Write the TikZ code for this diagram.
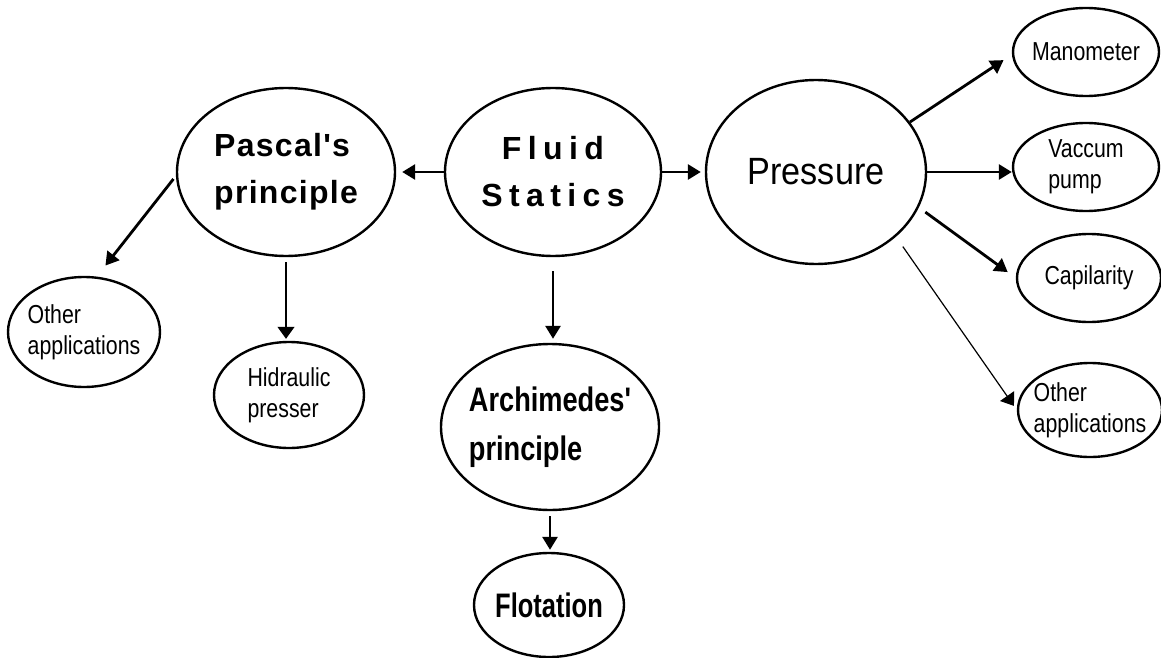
\documentclass[tikz,border=0pt]{standalone}
\usepackage{fontspec}
\setmainfont{Liberation Sans}
\newfontfamily\widefont[LetterSpace=20]{Liberation Sans}
\newfontfamily\pascalfont[LetterSpace=4]{Liberation Sans}
\newfontfamily\condfont[FakeStretch=0.82]{Liberation Sans}
\newfontfamily\bcondfont[FakeStretch=0.8]{Liberation Sans}
\newfontfamily\flotfont[FakeStretch=0.75]{Liberation Sans}
\newfontfamily\pressfont[FakeStretch=0.9]{Liberation Sans}
\usetikzlibrary{positioning}
\usetikzlibrary{arrows.meta}
\usetikzlibrary{shapes.geometric}

\begin{document}
\begin{tikzpicture}[x=1pt,y=-1pt,
 bubble/.style={draw,ellipse,line width=2.4pt,inner sep=-12pt,align=left},
 head/.style={bubble,font=#1\bfseries\fontsize{32}{47}\selectfont},
 leaf/.style={bubble,font=\condfont\fontsize{26}{31}\selectfont},
 fat/.style={line width=2.8pt,-{Triangle[length=13pt,width=15pt]}},
 slim/.style={line width=1.2pt,-{Triangle[length=12pt,width=17pt]}}]
 \useasboundingbox (0,0) rectangle (1161,658);
 % main bubbles
 \node[head=\widefont,align=center,minimum width=216pt,minimum height=168pt] (fluid) at (553,172) {Fluid\\Statics};
 \node[head=\pascalfont,minimum width=218pt,minimum height=168pt] (pascal) at (286,172) {Pascal's\\principle};
 \node[bubble,font=\pressfont\fontsize{38}{44}\selectfont,minimum width=220pt,minimum height=184pt] (pressure) at (816,172) {Pressure};
 \node[bubble,font=\bcondfont\bfseries\fontsize{34}{49}\selectfont,minimum width=218pt,minimum height=166pt] (arch) at (550,427) {Archimedes'\\principle};
 \node[bubble,font=\flotfont\bfseries\fontsize{34}{40}\selectfont,minimum width=150pt,minimum height=104pt] (flot) at (549,605) {Flotation};
 % leaves
 \node[leaf,minimum width=150pt,minimum height=106pt] (hid) at (289,395) {Hidraulic\\presser};
 \node[leaf,minimum width=152pt,minimum height=110pt] (oleft) at (84,332) {Other\\applications};
 \node[leaf,minimum width=146pt,minimum height=88pt] (mano) at (1086,52) {Manometer};
 \node[leaf,minimum width=146pt,minimum height=88pt] (vac) at (1086,167) {Vaccum\\pump};
 \node[leaf,minimum width=144pt,minimum height=88pt] (capil) at (1089,278) {Capilarity};
 \node[leaf,minimum width=144pt,minimum height=94pt] (oright) at (1090,410) {Other\\applications};
 % arrows
 \draw[fat,shorten >=6pt] (fluid.west) -- (pascal.east);
 \draw[fat,shorten >=4pt] (fluid.east) -- (pressure.west);
 \draw[fat,shorten <=14pt,shorten >=4pt] (fluid.south) -- (fluid.south |- arch.north);
 \draw[fat,shorten <=4pt,shorten >=14pt] (pascal.182) -- (oleft.77);
 \draw[slim,shorten <=5pt,shorten >=2pt] (pascal.south) -- (pascal.south |- hid.north);
 \draw[fat,shorten <=5pt,shorten >=2pt] (arch.south) -- (arch.south |- flot.north);
 \draw[fat,shorten >=10pt] (pressure.28) -- (mano.182);
 \draw[fat] (pressure.east) -- (pressure.east -| vac.west);
 \draw[fat,shorten <=8pt,shorten >=10pt] (pressure.-19) -- (capil.west);
 \draw[slim,shorten <=12pt,shorten >=5pt] (pressure.-39) -- (oright.west);
\end{tikzpicture}
\end{document}
